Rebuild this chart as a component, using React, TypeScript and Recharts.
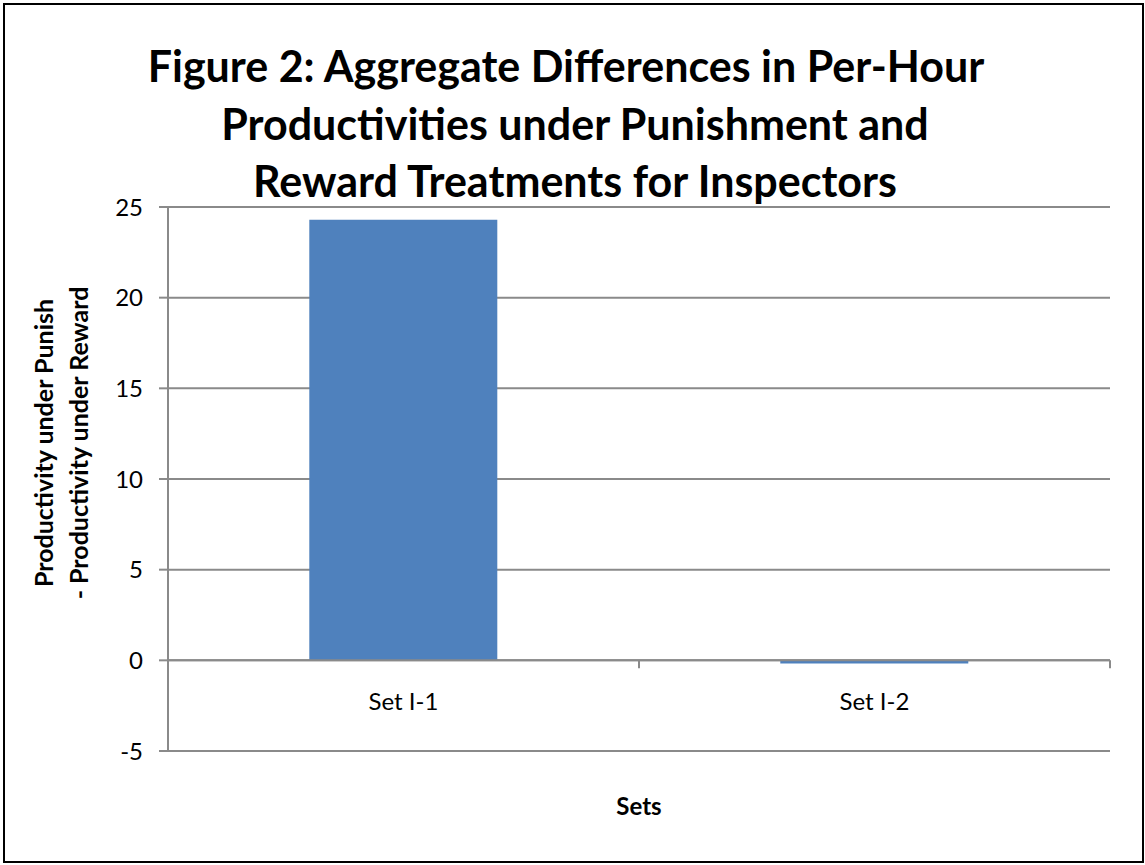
import {
  BarChart,
  Bar,
  XAxis,
  YAxis,
  CartesianGrid,
  ReferenceLine,
  ReferenceDot,
  Label,
} from 'recharts'

const categories = ['Set I-1', 'Set I-2']
const differences = [24.3, -0.17]
const yTicks = [-5, 0, 5, 10, 15, 20, 25]
const titleLines = [
  'Figure 2: Aggregate Differences in Per-Hour',
  'Productivities under Punishment and',
  'Reward Treatments for Inspectors',
]
const yLabelLines = ['Productivity under Punish', '- Productivity under Reward']
const xLabel = 'Sets'

const data = categories.map((name, i) => ({ name, diff: differences[i] }))

const FONT = 'Lato, "Open Sans", sans-serif'
const BAR = '#4F81BD'
const GRID = '#8a8a8a'

// zero line with the category tick marks hanging below it
function ZeroAxis(props: any) {
  const { x1, y1, x2, y2 } = props
  const n = categories.length
  const step = (x2 - x1) / n
  return (
    <g>
      <line x1={x1} y1={y1} x2={x2} y2={y2} stroke={GRID} strokeWidth={2} />
      {Array.from({ length: n + 1 }, (_, i) => (
        <line
          key={i}
          x1={x1 + step * i}
          x2={x1 + step * i}
          y1={y1}
          y2={y1 + 8}
          stroke={GRID}
          strokeWidth={2}
        />
      ))}
    </g>
  )
}

export default function App() {
  return (
    <div
      style={{
        position: 'absolute',
        left: 0,
        top: 0,
        width: 1145,
        height: 865,
        background: '#fff',
        fontFamily: FONT,
      }}
    >
      <BarChart
        width={1145}
        height={865}
        data={data}
        margin={{ top: 207, right: 35, bottom: 44, left: 108 }}
        barCategoryGap="30%"
      >
        <CartesianGrid vertical={false} stroke={GRID} strokeWidth={2} />
        <XAxis
          dataKey="name"
          axisLine={false}
          tickLine={false}
          tick={false}
          height={70}
        >
          <Label
            value={xLabel}
            position="insideBottom"
            offset={6}
            style={{ fontFamily: FONT, fontSize: 24, fontWeight: 700, fill: '#000' }}
          />
        </XAxis>
        <YAxis
          domain={[-5, 25]}
          ticks={yTicks}
          width={60}
          tickSize={9}
          tickMargin={16}
          axisLine={{ stroke: GRID, strokeWidth: 2 }}
          tickLine={{ stroke: GRID, strokeWidth: 2 }}
          tick={{ fill: '#000', fontSize: 24, fontFamily: FONT }}
          interval={0}
        />
        <Bar dataKey="diff" fill={BAR} isAnimationActive={false} />
        <ReferenceLine y={0} shape={ZeroAxis} />
        {categories.map((c) => (
          <ReferenceDot
            key={c}
            x={c}
            y={0}
            r={0}
            fill="none"
            stroke="none"
            label={{
              value: c,
              position: 'bottom',
              offset: 33,
              fill: '#000',
              fontSize: 24,
              fontFamily: FONT,
            }}
          />
        ))}
      </BarChart>

      {/* title and y-axis title */}
      <svg
        width={1145}
        height={865}
        style={{ position: 'absolute', left: 0, top: 0, pointerEvents: 'none' }}
      >
        {titleLines.map((t, i) => (
          <text
            key={t}
            x={i === 0 ? 566 : 575}
            y={82 + i * 57.5}
            textAnchor="middle"
            fontFamily={FONT}
            fontSize={43}
            fontWeight={700}
            fill="#000"
          >
            {t}
          </text>
        ))}
        {yLabelLines.map((t, i) => (
          <text
            key={t}
            transform={`translate(${53 + i * 35}, 443) rotate(-90)`}
            textAnchor="middle"
            fontFamily={FONT}
            fontSize={25}
            fontWeight={700}
            fill="#000"
          >
            {t}
          </text>
        ))}
      </svg>

      <div
        style={{
          position: 'absolute',
          left: 3,
          top: 3,
          width: 1137,
          height: 856,
          border: '2px solid #000',
          pointerEvents: 'none',
        }}
      />
    </div>
  )
}
